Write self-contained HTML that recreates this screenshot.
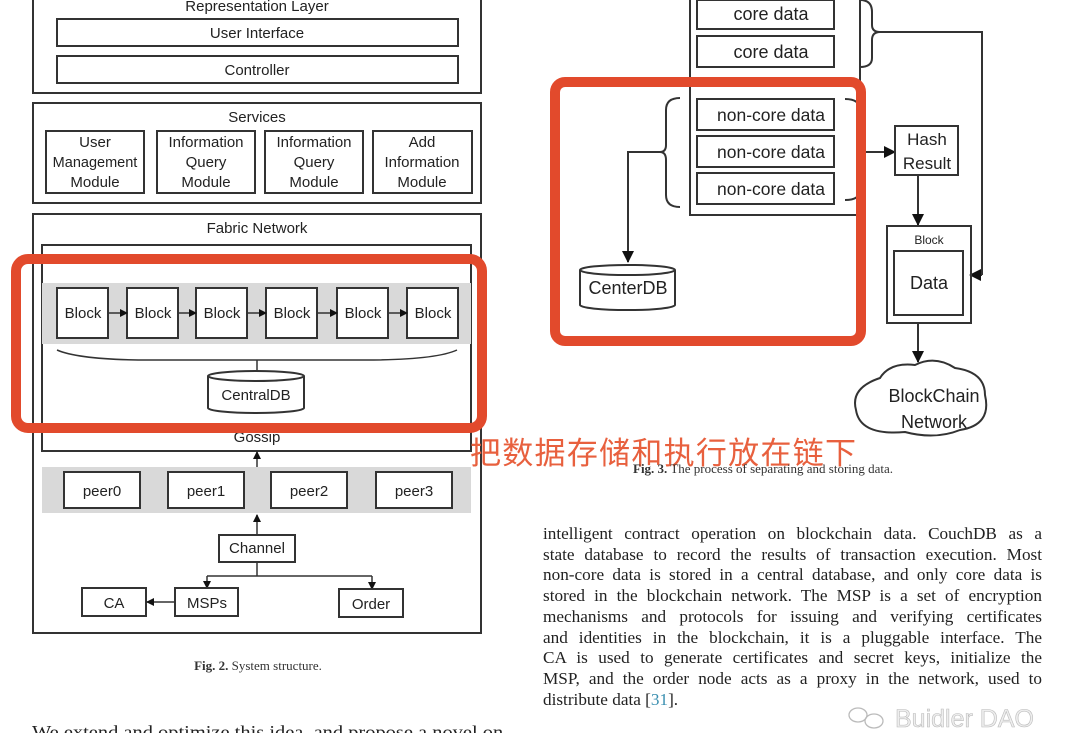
<!DOCTYPE html>
<html><head><meta charset="utf-8"><style>
html,body{margin:0;padding:0;background:#fff;width:1080px;height:733px;overflow:hidden;position:relative}
svg{position:absolute;left:0;top:0}
.p{position:absolute;left:543px;top:524px;width:499px;font-family:"Liberation Serif",serif;font-size:17.2px;line-height:20.7px;color:#222;text-align:justify}
.p span{display:block;text-align-last:justify}
</style></head><body>
<svg width="1080" height="733" viewBox="0 0 1080 733" font-family="Liberation Sans, sans-serif" fill="none" stroke="#333" stroke-width="2">
<defs><marker id="a" markerWidth="8" markerHeight="8" refX="7" refY="4" orient="auto" markerUnits="userSpaceOnUse"><path d="M0,0 L8,4 L0,8z" fill="#111" stroke="none"/></marker>
<marker id="b" markerWidth="12" markerHeight="12" refX="11" refY="6" orient="auto" markerUnits="userSpaceOnUse"><path d="M0,0 L12,6 L0,12z" fill="#111" stroke="none"/></marker></defs>
<g font-size="15" fill="#222" stroke="none" text-anchor="middle">
<text x="257" y="11">Representation Layer</text>
<text x="257" y="38">User Interface</text>
<text x="257" y="75">Controller</text>
<text x="257" y="122">Services</text>
<text x="95" y="147">User</text><text x="95" y="167" font-size="14.5">Management</text><text x="95" y="187">Module</text>
<text x="206" y="147">Information</text><text x="206" y="167">Query</text><text x="206" y="187">Module</text>
<text x="314" y="147">Information</text><text x="314" y="167">Query</text><text x="314" y="187">Module</text>
<text x="422" y="147">Add</text><text x="422" y="167">Information</text><text x="422" y="187">Module</text>
<text x="257" y="233">Fabric Network</text>
<text x="257" y="442">Gossip</text>
</g>
<rect x="33" y="-5" width="448" height="98"/>
<rect x="57" y="19" width="401" height="27"/>
<rect x="57" y="56" width="401" height="27"/>
<rect x="33" y="103" width="448" height="100"/>
<rect x="46" y="131" width="98" height="62"/><rect x="157" y="131" width="98" height="62"/><rect x="265" y="131" width="98" height="62"/><rect x="373" y="131" width="99" height="62"/>
<rect x="33" y="214" width="448" height="419"/>
<rect x="42" y="245" width="429" height="206"/>
<rect x="42" y="283" width="429" height="61" fill="#d9d9d9" stroke="none"/>
<g fill="#fff">
<rect x="57" y="288" width="51" height="50"/><rect x="127" y="288" width="51" height="50"/><rect x="196" y="288" width="51" height="50"/><rect x="266" y="288" width="51" height="50"/><rect x="337" y="288" width="51" height="50"/><rect x="407" y="288" width="51" height="50"/>
</g>
<g marker-end="url(#a)" stroke-width="1.5"><line x1="108" y1="313" x2="127" y2="313"/><line x1="178" y1="313" x2="196" y2="313"/><line x1="247" y1="313" x2="266" y2="313"/><line x1="317" y1="313" x2="337" y2="313"/><line x1="388" y1="313" x2="407" y2="313"/></g>
<g font-size="15" fill="#222" stroke="none" text-anchor="middle"><text x="83" y="318">Block</text><text x="153" y="318">Block</text><text x="222" y="318">Block</text><text x="292" y="318">Block</text><text x="363" y="318">Block</text><text x="433" y="318">Block</text></g>
<path d="M57,350 Q80,360 150,360 L365,360 Q435,360 457,350" stroke-width="1.5"/>
<line x1="257" y1="360" x2="257" y2="372" stroke-width="1.5"/>
<path d="M208,376 L208,408 A48,5 0 0 0 304,408 L304,376 A48,5 0 0 0 208,376 A48,5 0 0 0 304,376" fill="#fff"/>
<text x="256" y="400" font-size="15" fill="#222" stroke="none" text-anchor="middle">CentralDB</text>
<line x1="257" y1="469" x2="257" y2="452" stroke-width="1.5" marker-end="url(#a)"/>
<rect x="42" y="467" width="429" height="46" fill="#d9d9d9" stroke="none"/>
<g fill="#fff"><rect x="64" y="472" width="76" height="36"/><rect x="168" y="472" width="76" height="36"/><rect x="271" y="472" width="76" height="36"/><rect x="376" y="472" width="76" height="36"/></g>
<g font-size="15" fill="#222" stroke="none" text-anchor="middle"><text x="102" y="496">peer0</text><text x="206" y="496">peer1</text><text x="309" y="496">peer2</text><text x="414" y="496">peer3</text>
<text x="257" y="553">Channel</text><text x="114" y="608">CA</text><text x="207" y="608">MSPs</text><text x="371" y="609">Order</text></g>
<line x1="257" y1="534" x2="257" y2="515" stroke-width="1.5" marker-end="url(#a)"/>
<rect x="219" y="535" width="76" height="27"/>
<path d="M257,562 L257,576 M207,576 L372,576" stroke-width="1.5"/>
<line x1="207" y1="576" x2="207" y2="588" stroke-width="1.5" marker-end="url(#a)"/>
<line x1="372" y1="576" x2="372" y2="589" stroke-width="1.5" marker-end="url(#a)"/>
<rect x="82" y="588" width="64" height="28"/><rect x="175" y="588" width="63" height="28"/><rect x="339" y="589" width="64" height="28"/>
<line x1="175" y1="602" x2="147" y2="602" stroke-width="1.5" marker-end="url(#a)"/>
<text x="258" y="670" font-family="Liberation Serif, serif" font-size="13" fill="#333" stroke="none" text-anchor="middle"><tspan font-weight="bold">Fig. 2.</tspan> System structure.</text>
<text x="32" y="738" font-family="Liberation Serif, serif" font-size="18" fill="#222" stroke="none" textLength="478" lengthAdjust="spacingAndGlyphs">We extend and optimize this idea, and propose a novel on-</text>

<!-- right -->
<rect x="690" y="-5" width="170" height="220"/>
<rect x="697" y="0" width="137" height="29"/><rect x="697" y="36" width="137" height="31"/>
<rect x="697" y="99" width="137" height="31"/><rect x="697" y="136" width="137" height="31"/><rect x="697" y="173" width="137" height="31"/>
<path d="M580,270 L580,305 A47,5 0 0 0 675,305 L675,270 A47,5 0 0 0 580,270 A47,5 0 0 0 675,270" fill="#fff"/>
<g font-size="18" fill="#222" stroke="none" text-anchor="middle"><text x="771" y="20">core data</text><text x="771" y="58">core data</text>
<text x="771" y="121" font-size="17.5">non-core data</text><text x="771" y="158" font-size="17.5">non-core data</text><text x="771" y="195" font-size="17.5">non-core data</text>
<text x="927" y="145" font-size="17">Hash</text><text x="927" y="169" font-size="17">Result</text><text x="929" y="289">Data</text>
<text x="934" y="402">BlockChain</text><text x="934" y="428">Network</text><text x="628" y="294">CenterDB</text></g>
<text x="929" y="244" font-size="12" fill="#222" stroke="none" text-anchor="middle">Block</text>
<path d="M860,0 Q872,0 872,12 L872,25 Q872,32 880,32 Q872,32 872,40 L872,58 Q872,67 860,67"/>
<path d="M880,32 L982,32 L982,275"/><line x1="982" y1="275" x2="970" y2="275" marker-end="url(#b)"/>
<path d="M680,98 Q666,98 666,110 L666,145 Q666,152 660,152 Q666,152 666,160 L666,195 Q666,207 680,207"/>
<path d="M660,152 L628,152 L628,262" /><line x1="628" y1="250" x2="628" y2="262" marker-end="url(#b)"/>
<path d="M845,99 Q860,99 860,110 L860,145 Q860,152 866,152 Q860,152 860,160 L860,190 Q860,200 845,200"/>
<line x1="866" y1="152" x2="895" y2="152" marker-end="url(#b)"/>
<rect x="895" y="126" width="63" height="49"/>
<line x1="918" y1="175" x2="918" y2="225" marker-end="url(#b)"/>
<rect x="887" y="226" width="84" height="97"/><rect x="894" y="251" width="69" height="64"/>
<line x1="918" y1="323" x2="918" y2="362" marker-end="url(#b)"/>
<path d="M880,378 Q890,362 915,365 Q935,355 955,368 Q985,372 985,395 Q992,425 960,430 Q935,440 905,432 Q860,436 856,410 Q850,388 880,378z"/>
<g stroke="#e24a2c" stroke-width="10" fill="none"><rect x="16" y="259" width="466" height="169" rx="12"/><rect x="555" y="82" width="306" height="259" rx="10"/></g>
<text x="470" y="464" font-family="Liberation Sans, Noto Sans CJK SC, sans-serif" font-size="31" fill="#e8603e" stroke="none" textLength="386">把数据存储和执行放在链下</text>
<text x="633" y="473" font-family="Liberation Serif, serif" font-size="13" fill="#333" stroke="none"><tspan font-weight="bold">Fig. 3.</tspan> The process of separating and storing data.</text>
<text x="895" y="727" font-size="25" fill="#eee" stroke="#bbb" stroke-width="0.6">Buidler DAO</text>
<g stroke="#bbb" stroke-width="1.3"><ellipse cx="858" cy="715" rx="9" ry="7"/><ellipse cx="874" cy="721" rx="9" ry="7"/></g>
</svg>
<div class="p"><span>intelligent contract operation on blockchain data. CouchDB as a</span><span>state database to record the results of transaction execution. Most</span><span>non-core data is stored in a central database, and only core data is</span><span>stored in the blockchain network. The MSP is a set of encryption</span><span>mechanisms and protocols for issuing and verifying certificates</span><span>and identities in the blockchain, it is a pluggable interface. The</span><span>CA is used to generate certificates and secret keys, initialize the</span><span>MSP, and the order node acts as a proxy in the network, used to</span><span style="text-align-last:left">distribute data [<span style="display:inline;color:#3a8fb0">31</span>].</span></div>
</body></html>
